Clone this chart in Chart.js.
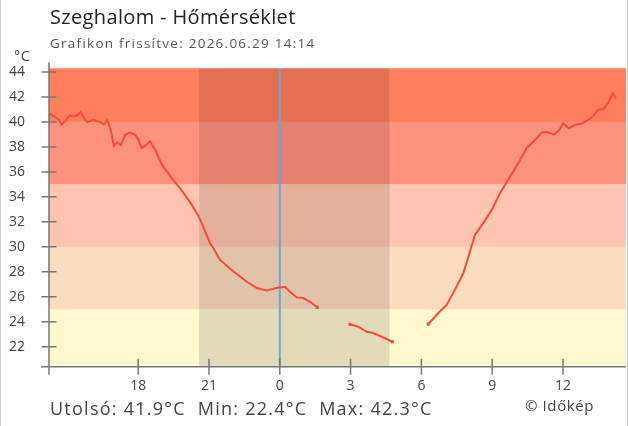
<!DOCTYPE html>
<html><head><meta charset="utf-8">
<script src="https://cdn.jsdelivr.net/npm/chart.js@4.4.1/dist/chart.umd.min.js"></script>
<style>
html,body{margin:0;padding:0;background:#fff;}
#wrap{position:relative;width:628px;height:426px;overflow:hidden;font-family:'Open Sans',sans-serif;}
canvas{position:absolute;left:0;top:0;}
.t{position:absolute;white-space:nowrap;line-height:1;}
#title{left:50px;top:7px;font-size:20px;color:#222;letter-spacing:0.35px;}
#sub{left:50px;top:37px;font-size:13.5px;color:#555;letter-spacing:1.25px;}
#unit{left:14px;top:49px;font-size:14.5px;color:#444;letter-spacing:0.5px;}
#stats{left:50px;top:399px;font-size:18px;color:#444;letter-spacing:1.25px;}
#copy{left:525px;top:398px;font-size:15px;color:#444;letter-spacing:0.6px;}
#frame{position:absolute;left:0;top:0;width:626px;height:426px;border-left:1px solid #cfcfcf;border-right:1px solid #cfcfcf;pointer-events:none;}
</style></head><body>
<div id="wrap">
<canvas id="c" width="628" height="426"></canvas>
<div class="t" id="title">Szeghalom - Hőmérséklet</div>
<div class="t" id="sub">Grafikon frissítve: 2026.06.29 14:14</div>
<div class="t" id="unit">°C</div>
<div class="t" id="stats">Utolsó: 41.9°C&nbsp; Min: 22.4°C&nbsp; Max: 42.3°C</div>
<div class="t" id="copy">© Időkép</div>
<div id="frame"></div>
</div>
<script>
// hours counted from midnight of the previous day (24 = 0:00 today)
const hours = [14.2,14.47,14.62,14.76,14.92,15.08,15.39,15.56,15.7,15.84,16.1,16.38,16.55,16.69,16.83,16.97,17.11,17.26,17.44,17.62,17.86,18.0,18.15,18.33,18.5,18.71,19.0,19.42,19.77,20.19,20.55,20.76,21.04,21.18,21.47,21.96,22.6,23.03,23.45,23.87,24.22,24.43,24.72,25.0,25.28,25.59,
  26.3,
  26.97,27.33,27.68,27.96,28.32,28.77,
  29.5,
  30.29,30.72,31.07,31.42,31.78,31.99,32.27,32.62,32.98,33.33,33.75,34.1,34.46,34.81,35.1,35.31,35.62,35.84,36.01,36.23,36.51,36.79,37.22,37.5,37.71,37.92,38.11,38.25];
const temps = [40.7,40.4,40.2,39.8,40.1,40.5,40.5,40.8,40.3,40.0,40.15,40.0,39.8,40.15,39.4,38.1,38.35,38.15,38.95,39.15,39.0,38.6,37.9,38.15,38.45,37.8,36.6,35.5,34.7,33.6,32.5,31.6,30.3,29.9,28.95,28.15,27.2,26.7,26.5,26.7,26.8,26.4,25.95,25.9,25.6,25.15,
  null,
  23.8,23.6,23.2,23.1,22.8,22.4,
  null,
  23.8,24.7,25.35,26.55,27.9,29.2,30.95,31.9,32.95,34.3,35.6,36.7,37.9,38.55,39.15,39.2,39.0,39.35,39.9,39.5,39.75,39.85,40.35,41.0,41.0,41.55,42.3,41.9];
const xTickValues = [18,21,24,27,30,33,36];
const yTickValues = [22,24,26,28,30,32,34,36,38,40,42,44];
const bandEdges = [20.4,25,30,35,40,44.3];
const bandColors = ['#fff7ce','#fcdcbe','#ffc5af','#ff927c','#ff7f5c'];
const night = [20.58, 28.65];   // sunset .. sunrise
const midnight = 24;
const xRange = [14.22, 38.67];
const yRange = [20.4, 44.3];

const lineColor = '#fa4a3a';
const axisColor = '#777';

const bgPlugin = {
  id:'bg',
  beforeDatasetsDraw(chart){
    const {ctx, chartArea:a, scales:{x,y}} = chart;
    ctx.save();
    for(let i=0;i<bandColors.length;i++){
      const top = y.getPixelForValue(bandEdges[i+1]);
      const bot = y.getPixelForValue(bandEdges[i]);
      ctx.fillStyle = bandColors[i];
      ctx.fillRect(a.left, top, a.right-a.left, bot-top);
    }
    const n0 = x.getPixelForValue(night[0]), n1 = x.getPixelForValue(night[1]);
    ctx.fillStyle = 'rgba(0,0,0,0.11)';
    ctx.fillRect(n0, a.top, n1-n0, a.bottom-a.top);
    const mx = x.getPixelForValue(midnight);
    ctx.strokeStyle = '#66a9de';
    ctx.lineWidth = 2;
    ctx.beginPath(); ctx.moveTo(mx, a.top); ctx.lineTo(mx, a.bottom); ctx.stroke();
    ctx.restore();
  },
  afterDraw(chart){
    const {ctx, chartArea:a, scales:{x,y}} = chart;
    ctx.save();
    ctx.strokeStyle = axisColor;
    ctx.lineWidth = 1.5;
    ctx.beginPath();
    ctx.moveTo(a.left, a.top-6); ctx.lineTo(a.left, a.bottom+8);
    ctx.moveTo(a.left-8, a.bottom); ctx.lineTo(a.right, a.bottom);
    yTickValues.forEach(v=>{const py=y.getPixelForValue(v); ctx.moveTo(a.left-7.5,py); ctx.lineTo(a.left+7.5,py);});
    xTickValues.forEach(v=>{const px=x.getPixelForValue(v); ctx.moveTo(px,a.bottom-8); ctx.lineTo(px,a.bottom+8);});
    ctx.stroke();
    ctx.restore();
  }
};

const pts = hours.map((h,i)=>({x:h, y:temps[i]}));
new Chart(document.getElementById('c'), {
  type:'line',
  data:{datasets:[{
    data: pts,
    borderColor: lineColor,
    backgroundColor: lineColor,
    borderWidth: 2,
    tension: 0,
    spanGaps: false,
    pointStyle: 'rect',
    pointBorderWidth: 0,
    pointRadius: c => {
      const i = c.dataIndex;
      if (temps[i] === null) return 0;
      const prevNull = i>0 && temps[i-1] === null;
      const nextNull = i<temps.length-1 && temps[i+1] === null;
      return (prevNull || nextNull) ? 2.2 : 0;
    }
  }]},
  options:{
    responsive:false,
    animation:false,
    layout:{padding:{top:68.25,right:2,left:0,bottom:0}},
    plugins:{legend:{display:false}, tooltip:{enabled:false}},
    scales:{
      x:{
        type:'linear', min:xRange[0], max:xRange[1],
        grid:{display:false, drawTicks:false}, border:{display:false},
        afterBuildTicks: s => { s.ticks = xTickValues.map(v=>({value:v})); },
        afterFit: s => { s.height = 426 - 366.7; },
        ticks:{callback: v => String(v % 24), color:'#444', font:{family:'Open Sans', size:14}, padding:11, maxRotation:0, autoSkip:false}
      },
      y:{
        min:yRange[0], max:yRange[1],
        grid:{display:false, drawTicks:false}, border:{display:false},
        afterBuildTicks: s => { s.ticks = yTickValues.map(v=>({value:v})); },
        afterFit: s => { s.width = 49; },
        ticks:{color:'#444', font:{family:'Open Sans', size:14}, padding:24}
      }
    }
  },
  plugins:[bgPlugin]
});
</script>
</body></html>
